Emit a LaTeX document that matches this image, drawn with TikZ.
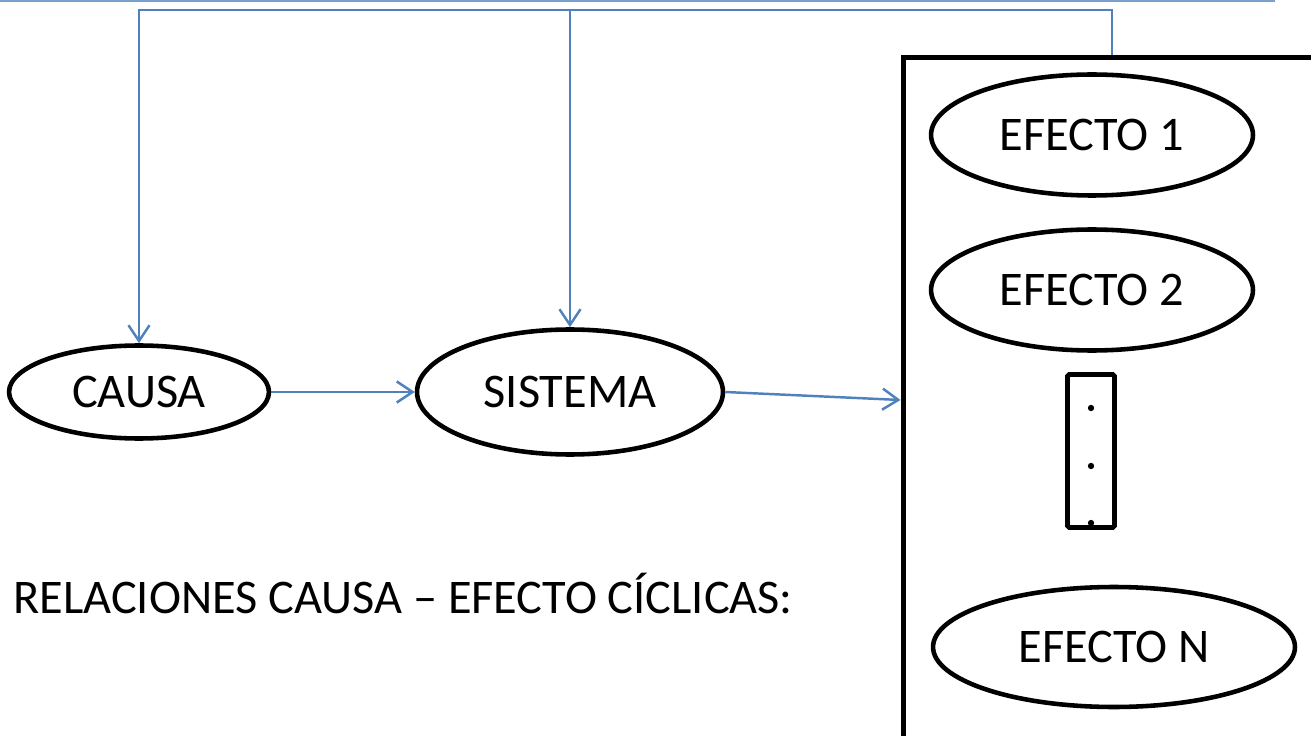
\documentclass[tikz,border=0pt]{standalone}
\usepackage{fontspec}
\setmainfont{Carlito}
\usetikzlibrary{shapes.geometric,arrows.meta}
\definecolor{azul}{HTML}{4F81BD}

\begin{document}
\begin{tikzpicture}[x=0.02cm,y=-0.02cm,>={Straight Barb[length=9pt,width=12pt]}]
\tikzset{
    elip/.style={%
        draw=black, line width=2.6pt,
        ellipse,
        inner sep=0pt,
        font=\fontsize{27.5}{33}\selectfont
        },
    liga/.style={%
        draw=azul, line width=1.4pt
        },
}
\clip (0,0) rectangle (1311,736);
%%%LINEA SUPERIOR
\draw[azul!75, line width=1.4pt] (0,1) -- (1275,1);
%%%CAJA DE EFECTOS
\node[draw, line width=2.9pt, minimum width=8.36cm, minimum height=13.72cm] (efectos) at (1112,400) {};
%%%ELIPSES
\node[elip, minimum width=5.2cm, minimum height=1.86cm] (causa) at (139,392) {CAUSA};
\node[elip, minimum width=6.12cm, minimum height=2.5cm] (sistema) at (570,392) {SISTEMA};
\node[elip, minimum width=6.44cm, minimum height=2.42cm] (efecto1) at (1092,135) {EFECTO 1};
\node[elip, minimum width=6.44cm, minimum height=2.42cm] (efecto2) at (1092,290) {EFECTO 2};
\node[elip, minimum width=7.24cm, minimum height=2.4cm] (efectoN) at (1114,647) {EFECTO N};
%%%PUNTOS
\node[draw, line width=2.8pt, rounded corners=1pt, minimum width=0.94cm, minimum height=3.06cm] (puntos) at (1091,451) {};
\fill (1091,408) circle (1.8pt) (1091,466) circle (1.8pt) (1091,523) circle (1.8pt);
%%%TEXTO
\node[anchor=base west, inner sep=0pt, font=\fontsize{27.5}{33}\selectfont] (titulo) at (13,613) {RELACIONES CAUSA – EFECTO CÍCLICAS:};
%%%CONEXIONES
\coordinate (retorno) at (1112,10);
\draw[liga, ->] (causa) -- (sistema);
\draw[liga, ->] (sistema.east) -- (efectos.west);
\draw[liga, ->] (efectos.north) -- (retorno) -| (causa.north);
\draw[liga, ->] (retorno -| sistema.north) -- (sistema.north);
\end{tikzpicture}
\end{document}
